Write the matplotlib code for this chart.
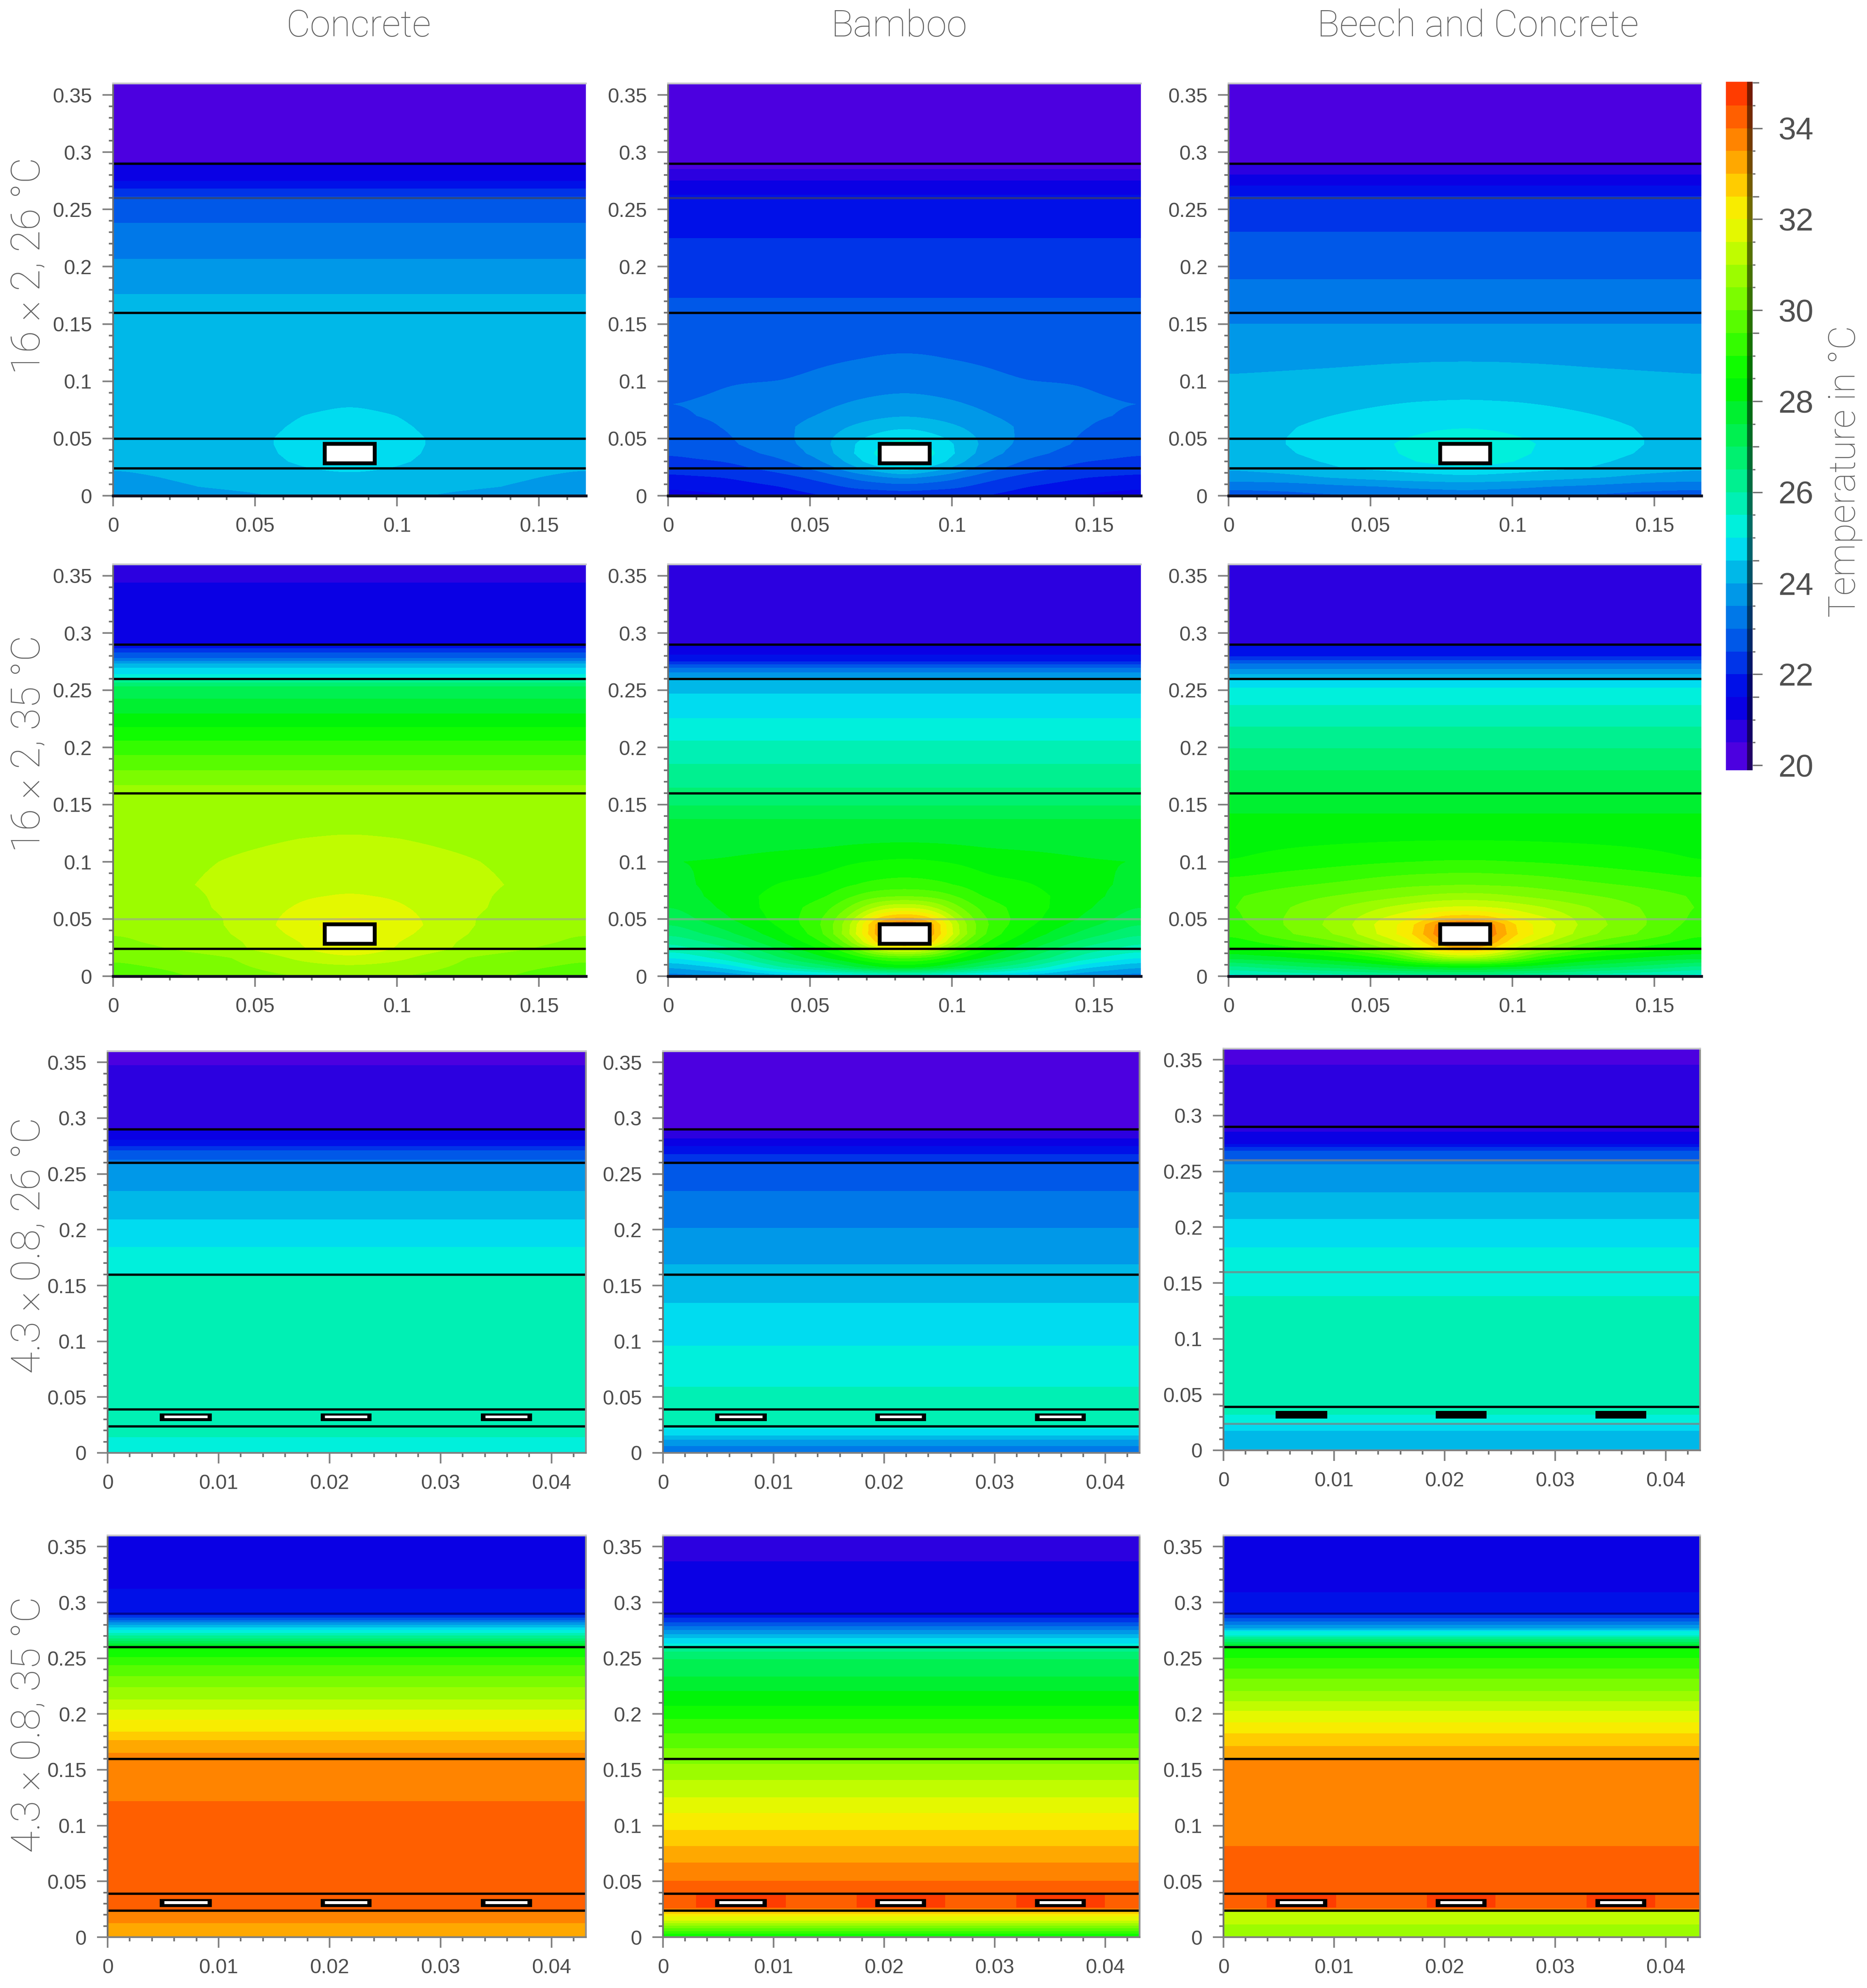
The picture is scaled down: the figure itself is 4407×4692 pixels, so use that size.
import numpy as np
import matplotlib
matplotlib.use('Agg')
import matplotlib.pyplot as plt
from matplotlib.colors import ListedColormap, BoundaryNorm
from matplotlib.patches import Rectangle
from matplotlib.ticker import FixedLocator, FixedFormatter, NullFormatter

# temperature bands, 20 to 35 in 0.5 steps
levels = [20 + 0.5 * i for i in range(31)]
band_colors = ['#4c00e0', '#2c00e0', '#0a00e4', '#0010e8', '#0034e8', '#0058e8', '#0078e8', '#0098e8',
               '#00b8e8', '#00dcf0', '#00f0dc', '#00f0b4', '#00f090', '#00f070', '#00f050', '#00f030',
               '#00f408', '#10fc00', '#34fc00', '#58fc00', '#7cfc00', '#9cfc00', '#c0fc00', '#e4f800',
               '#f8ec00', '#ffcc00', '#ffa800', '#ff8400', '#ff5f00', '#ff3c00']

# nodes for the wide pipe panels (left half, mirrored about the pipe)
half_x = [0, 0.02, 0.04, 0.055, 0.065, 0.075, 0.08325]
low_y = [0, 0.008, 0.016, 0.024, 0.03, 0.037, 0.045, 0.05, 0.06, 0.07, 0.08, 0.10, 0.12]

# 16 x 2, 26 C
conc_16_26 = [[23.7, 23.8, 23.9, 24.02, 24.1, 24.15, 24.15, 24.15, 24.15, 24.12, 24.1, 24.1, 24.05],
              [23.8, 23.95, 24.02, 24.1, 24.15, 24.2, 24.2, 24.2, 24.2, 24.18, 24.15, 24.12, 24.08],
              [23.9, 24.05, 24.1, 24.2, 24.25, 24.3, 24.32, 24.32, 24.3, 24.27, 24.22, 24.15, 24.1],
              [24.0, 24.1, 24.2, 24.3, 24.4, 24.45, 24.48, 24.48, 24.43, 24.36, 24.3, 24.2, 24.12],
              [24.05, 24.2, 24.3, 24.45, 24.55, 24.6, 24.6, 24.6, 24.55, 24.49, 24.38, 24.25, 24.15],
              [24.1, 24.25, 24.35, 24.55, 24.7, 24.8, 24.85, 24.75, 24.65, 24.55, 24.44, 24.3, 24.17],
              [24.1, 24.3, 24.4, 24.6, 24.9, 24.9, 24.9, 24.9, 24.7, 24.6, 24.48, 24.3, 24.18]]
conc_16_26_y = [0.1759, 0.2066, 0.2382, 0.2612, 0.2683, 0.275, 0.2905, 0.2915, 0.36]
conc_16_26_t = [24, 23.5, 23, 22.5, 22, 21.5, 21, 20.5, 20.2]

bamb_16_26 = [[21.2, 21.6, 21.9, 22.15, 22.35, 22.52, 22.65, 22.75, 22.87, 22.95, 22.99, 22.9, 22.75],
              [21.45, 21.75, 22.0, 22.3, 22.5, 22.75, 22.9, 22.93, 23.0, 23.05, 23.05, 22.98, 22.8],
              [21.75, 22.0, 22.3, 22.7, 22.9, 23.15, 23.3, 23.35, 23.38, 23.3, 23.2, 23.0, 22.82],
              [22.0, 22.3, 22.7, 23.2, 23.5, 23.75, 23.85, 23.85, 23.75, 23.55, 23.4, 23.12, 22.93],
              [22.1, 22.6, 23.1, 23.85, 24.2, 24.45, 24.45, 24.35, 24.05, 23.75, 23.55, 23.2, 22.98],
              [22.15, 22.7, 23.4, 24.4, 25, 25.2, 25, 24.75, 24.3, 23.9, 23.65, 23.27, 23.03],
              [22.2, 22.8, 23.65, 24.9, 25.4, 25.6, 25.4, 25, 24.45, 23.98, 23.7, 23.3, 23.05]]
bamb_16_26_y = [0.1727, 0.2247, 0.2626, 0.275, 0.2854, 0.36]
bamb_16_26_t = [22.5, 22, 21.5, 21, 20.5, 20.2]

beech_16_26 = [[22.7, 23.15, 23.75, 24.05, 24.1, 24.15, 24.2, 24.2, 24.2, 24.18, 24.15, 24.05, 23.88],
               [22.8, 23.2, 23.85, 24.2, 24.35, 24.45, 24.5, 24.5, 24.45, 24.35, 24.22, 24.08, 23.9],
               [22.95, 23.4, 24.05, 24.5, 24.6, 24.7, 24.75, 24.75, 24.68, 24.53, 24.38, 24.12, 23.92],
               [23.05, 23.5, 24.2, 24.6, 24.8, 24.9, 24.95, 24.92, 24.8, 24.65, 24.48, 24.17, 23.94],
               [23.1, 23.6, 24.25, 24.72, 24.98, 25.1, 25.1, 25.03, 24.88, 24.72, 24.53, 24.2, 23.95],
               [23.15, 23.65, 24.3, 24.85, 25.15, 25.25, 25.25, 25.15, 24.95, 24.75, 24.55, 24.22, 23.96],
               [23.2, 23.7, 24.35, 24.95, 25.2, 25.3, 25.3, 25.2, 24.98, 24.77, 24.57, 24.22, 23.96]]
beech_16_26_y = [0.1499, 0.1887, 0.2302, 0.2614, 0.271, 0.2806, 0.29, 0.36]
beech_16_26_t = [23.5, 23, 22.5, 22, 21.5, 21, 20.5, 20.2]

# 16 x 2, 35 C
conc_16_35 = [[29.75, 29.9, 30.05, 30.3, 30.4, 30.5, 30.6, 30.62, 30.65, 30.7, 30.75, 30.72, 30.65],
              [29.9, 30.05, 30.2, 30.5, 30.6, 30.65, 30.72, 30.75, 30.8, 30.85, 30.92, 30.88, 30.78],
              [30.2, 30.35, 30.45, 30.8, 30.85, 30.95, 31.0, 31.0, 31.07, 31.08, 31.1, 31.02, 30.9],
              [30.4, 30.6, 30.8, 31.2, 31.25, 31.35, 31.42, 31.4, 31.35, 31.28, 31.2, 31.1, 30.96],
              [30.5, 30.75, 31.1, 31.4, 31.45, 31.6, 31.75, 31.7, 31.55, 31.43, 31.3, 31.15, 31.0],
              [30.55, 30.85, 31.3, 31.7, 31.85, 32, 32.1, 31.95, 31.7, 31.5, 31.35, 31.18, 31.03],
              [30.6, 30.9, 31.4, 31.9, 32.1, 32.3, 32.2, 32.1, 31.75, 31.55, 31.38, 31.2, 31.05]]
conc_16_35_y = [0.1669, 0.1798, 0.193, 0.206, 0.2178, 0.2296, 0.2426, 0.2532, 0.2568, 0.2592, 0.2603,
                0.2639, 0.2698, 0.2733, 0.2756, 0.278, 0.2828, 0.2865, 0.2898, 0.3442, 0.36]
conc_16_35_t = [30.5, 30, 29.5, 29, 28.5, 28, 27.5, 27, 26.5, 26, 25.5, 25, 24.5, 24, 23.5, 23, 22.5, 22,
                21.5, 21, 20.7]

bamb_16_35 = [[23.2, 24, 24.9, 25.7, 26, 26.5, 26.9, 27.1, 27.4, 27.65, 27.85, 27.98, 27.72],
              [23.5, 24.6, 25.7, 26.3, 26.8, 27.3, 27.7, 27.9, 28.1, 28.2, 28.15, 28.05, 27.75],
              [24.2, 26, 27, 27.6, 28, 28.35, 28.6, 28.7, 28.75, 28.7, 28.55, 28.2, 27.78],
              [24.6, 26.7, 27.9, 28.6, 29, 29.4, 29.5, 29.45, 29.25, 28.9, 28.65, 28.3, 27.8],
              [24.8, 27.4, 28.6, 29.6, 30.4, 31.1, 31, 30.8, 30.1, 29.5, 29, 28.45, 27.85],
              [24.9, 28, 29.4, 31.6, 33.2, 33.7, 33.7, 33, 31.3, 29.9, 29.15, 28.55, 27.88],
              [25, 28.2, 29.6, 31.9, 33.5, 34, 34, 33.3, 31.5, 30, 29.2, 28.6, 27.9]]
bamb_16_35_y = [0.1373, 0.149, 0.1645, 0.1852, 0.2059, 0.2253, 0.2468, 0.2608, 0.2655, 0.2694, 0.2727,
                0.2753, 0.281, 0.2901, 0.36]
bamb_16_35_t = [27.5, 27, 26.5, 26, 25.5, 25, 24.5, 24, 23.5, 23, 22.5, 22, 21.5, 21, 20.7]

beech_16_35 = [[25.2, 26.3, 27.6, 28.4, 28.7, 29, 29.2, 29.3, 29.4, 29.4, 29.2, 28.5, 28.27],
               [25.4, 26.8, 27.9, 28.8, 29.3, 29.9, 30.03, 30.03, 29.95, 29.75, 29.4, 28.7, 28.35],
               [25.6, 27.2, 28.4, 29.4, 30, 30.6, 30.75, 30.7, 30.5, 30.05, 29.6, 28.85, 28.4],
               [25.8, 27.6, 29, 30.4, 31.1, 31.7, 31.75, 31.6, 31, 30.3, 29.8, 28.95, 28.43],
               [25.9, 27.9, 29.9, 31.2, 31.9, 32.4, 32.3, 32, 31.3, 30.5, 29.9, 29, 28.45],
               [26, 28, 30.7, 32.8, 33.5, 34, 33.9, 32.9, 31.55, 30.65, 29.95, 29.03, 28.46],
               [26, 28.2, 31, 33, 34, 34.5, 34.5, 33, 31.6, 30.7, 30, 29.05, 28.47]]
beech_16_35_y = [0.1422, 0.1588, 0.18, 0.1989, 0.2178, 0.2367, 0.2521, 0.2592, 0.2639, 0.2686, 0.2733,
                 0.2764, 0.2797, 0.2895, 0.2905, 0.36]
beech_16_35_t = [28, 27.5, 27, 26.5, 26, 25.5, 25, 24.5, 24, 23.5, 23, 22.5, 22, 21.5, 21, 20.7]

# 4.3 x 0.8 panels are flat, only a profile over the height
conc_43_26_y = [0, 0.0142, 0.024, 0.039, 0.1, 0.1587, 0.1847, 0.2091, 0.2345, 0.2594, 0.2629, 0.2712,
                0.2748, 0.2807, 0.2901, 0.3475, 0.36]
conc_43_26_t = [25.2, 25.5, 25.7, 25.75, 25.75, 25.5, 25, 24.5, 24, 23.5, 23, 22.5, 22, 21.5, 21, 20.5, 20.1]

bamb_43_26_y = [0, 0.0059, 0.0118, 0.0154, 0.0213, 0.0237, 0.035, 0.0592, 0.0959, 0.1343, 0.1689, 0.2018,
                0.2345, 0.2594, 0.2676, 0.2748, 0.2819, 0.2901, 0.36]
bamb_43_26_t = [23.1, 23.5, 24, 24.5, 25, 25.5, 25.8, 25.5, 25, 24.5, 24, 23.5, 23, 22.5, 22, 21.5, 21, 20.5, 20.2]

beech_43_26_y = [0, 0.0173, 0.0239, 0.0319, 0.08, 0.1382, 0.182, 0.2072, 0.2311, 0.2564, 0.2604, 0.2683,
                 0.272, 0.2744, 0.2856, 0.3454, 0.36]
beech_43_26_t = [24.1, 24.5, 25, 25.5, 25.7, 25.5, 25, 24.5, 24, 23.5, 23, 22.5, 22, 21.5, 21, 20.5, 20.1]

conc_43_35_y = [0, 0.0124, 0.0233, 0.06, 0.1219, 0.1652, 0.1767, 0.1842, 0.1949, 0.2038, 0.213, 0.224, 0.2338,
                0.2439, 0.2511, 0.2597, 0.2612, 0.2632, 0.2655, 0.2678, 0.2704, 0.2727, 0.2753, 0.2776,
                0.2799, 0.2822, 0.2842, 0.2863, 0.2885, 0.3122, 0.36]
conc_43_35_t = [33.2, 33.5, 34, 34.4, 34, 33.5, 33, 32.5, 32, 31.5, 31, 30.5, 30, 29.5, 29, 28.5, 28, 27.5, 27,
                26.5, 26, 25.5, 25, 24.5, 24, 23.5, 23, 22.5, 22, 21.5, 21.1]

bamb_43_35_y = [0, 0.0031, 0.0055, 0.0078, 0.0102, 0.0126, 0.015, 0.0185, 0.0233, 0.026, 0.035, 0.0506, 0.0668,
                0.0815, 0.0962, 0.1112, 0.1255, 0.1409, 0.1552, 0.1694, 0.1825, 0.1956, 0.2075, 0.2205, 0.2336,
                0.2491, 0.2561, 0.2597, 0.2609, 0.2633, 0.2681, 0.2716, 0.2752, 0.2788, 0.2823, 0.2864,
                0.2906, 0.337, 0.36]
bamb_43_35_t = [28.3, 29, 29.5, 30, 30.5, 31, 31.5, 32, 33, 34, 34.45, 34, 33.5, 33, 32.5, 32, 31.5, 31, 30.5,
                30, 29.5, 29, 28.5, 28, 27.5, 27, 26.5, 26, 25.5, 25, 24.5, 24, 23.5, 23, 22.5, 22, 21.5, 21, 20.7]

beech_43_35_y = [0, 0.0114, 0.0226, 0.0233, 0.026, 0.03, 0.0815, 0.1599, 0.1713, 0.1825, 0.1927, 0.2027, 0.2117,
                 0.2205, 0.2317, 0.2407, 0.2502, 0.2597, 0.2609, 0.2626, 0.2645, 0.2669, 0.2688, 0.2704, 0.274,
                 0.2752, 0.2768, 0.2799, 0.283, 0.2859, 0.2895, 0.3092, 0.36]
beech_43_35_t = [30.6, 31, 31.5, 33, 34, 34.45, 34, 33.5, 33, 32.5, 32, 31.5, 31, 30.5, 30, 29.5, 29, 28.5, 28,
                 27.5, 27, 26.5, 26, 25.5, 25, 24.5, 24, 23.5, 23, 22.5, 22, 21.5, 21.1]

# layer lines, black ones and the ones that came out grey
lines_16_26 = [0.29, 0.16, 0.05, 0.024]
lines_16_35 = [0.29, 0.26, 0.16, 0.024]
lines_43 = [0.29, 0.26, 0.16, 0.039, 0.024]

# pipes
pipe_wide_x = [0.0745, 0.092]
pipe_wide_y = [0.0285, 0.0455]
pipe_flat_x = [[0.0047, 0.0094], [0.0192, 0.0238], [0.03365, 0.03825]]
pipe_flat_y = [[0.0284, 0.0354], [0.027, 0.034]]
# how far the hottest band reaches sideways around the pipes, 35 C row
hot_reach = [0, 0.0017, 0.0008]
hot_y = [0.0265, 0.0385]

col_names = ['Concrete', 'Bamboo', 'Beech and Concrete']
row_names = ['16 \u00d7 2, 26 \u00b0C', '16 \u00d7 2, 35 \u00b0C', '4.3 \u00d7 0.8, 26 \u00b0C', '4.3 \u00d7 0.8, 35 \u00b0C']

y_ticks = [0, 0.05, 0.1, 0.15, 0.2, 0.25, 0.3, 0.35]
y_labels = ['0', '0.05', '0.1', '0.15', '0.2', '0.25', '0.3', '0.35']
x_ticks_wide = [0, 0.05, 0.1, 0.15]
x_labels_wide = ['0', '0.05', '0.1', '0.15']
x_ticks_flat = [0, 0.01, 0.02, 0.03, 0.04]
x_labels_flat = ['0', '0.01', '0.02', '0.03', '0.04']
cbar_ticks = [20, 22, 24, 26, 28, 30, 32, 34]

W, H = 4407, 4692
DPI = 300
plt.rcParams['font.family'] = ['Liberation Sans', 'DejaVu Sans']
cmap = ListedColormap(band_colors)
norm = BoundaryNorm(levels, cmap.N)
fig = plt.figure(figsize=(W / DPI, H / DPI), dpi=DPI)


def px_axes(x0, x1, y0, y1):
    return fig.add_axes([x0 / W, 1 - y1 / H, (x1 - x0) / W, (y1 - y0) / H])


def wide_field(cols, up_y, up_t, width=0.1665):
    # mirror the half grid and put the flat upper part on top of it
    low = np.array(cols).T
    up = np.tile(np.array(up_t)[:, None], (1, low.shape[1]))
    t = np.vstack([low, up])
    t = np.hstack([t, t[:, -2::-1]])
    xx = np.array(half_x)
    xx = np.concatenate([xx, width - xx[-2::-1]])
    # round off the corners of the contours, sideways only
    fine = np.linspace(0, width, 168)
    tf = np.array([np.interp(fine, xx, row) for row in t])
    box = np.ones(9) / 9
    for _ in range(2):
        pad = np.hstack([tf[:, 4:0:-1], tf, tf[:, -2:-6:-1]])
        tf = np.array([np.convolve(row, box, mode='valid') for row in pad])
    return fine, np.concatenate([low_y, up_y]), tf


def flat_field(ys, ts, width=0.0431):
    t = np.array(ts)[:, None]
    return np.array([0, width]), np.array(ys), np.hstack([t, t])


def setup_axes(ax, xmax, xticks, xlabels, xminor, ymax=0.36):
    ax.set_xlim(0, xmax)
    ax.set_ylim(0, ymax)
    ax.xaxis.set_major_locator(FixedLocator(xticks))
    ax.xaxis.set_major_formatter(FixedFormatter(xlabels))
    ax.yaxis.set_major_locator(FixedLocator(y_ticks))
    ax.yaxis.set_major_formatter(FixedFormatter(y_labels))
    ax.xaxis.set_minor_locator(FixedLocator(np.arange(0, xmax, xminor)))
    ax.yaxis.set_minor_locator(FixedLocator(np.arange(0, ymax, 0.01)))
    ax.tick_params(which='major', length=6, width=0.9, color='#808080', labelcolor='#4c4c4c', labelsize=11.5, pad=6)
    ax.tick_params(which='minor', length=2.5, width=0.9, color='#707070')
    for s in ax.spines.values():
        s.set_linewidth(1.0)
    ax.spines['left'].set_color('#707070')
    ax.spines['top'].set_color('#c4c4c8')
    ax.spines['bottom'].set_color('#808080')
    ax.spines['right'].set_color('#909090')


# pixel boxes of the panels
col_x = [(267, 1383), (1577, 2693), (2900, 4016)]
col_x_flat = [(254, 1383), (1565, 2690), (2888, 4013)]
row_y = [(197, 1170), (1332, 2304), (2481, 3429), (3624, 4572)]

wide = [[(conc_16_26, conc_16_26_y, conc_16_26_t), (bamb_16_26, bamb_16_26_y, bamb_16_26_t),
         (beech_16_26, beech_16_26_y, beech_16_26_t)],
        [(conc_16_35, conc_16_35_y, conc_16_35_t), (bamb_16_35, bamb_16_35_y, bamb_16_35_t),
         (beech_16_35, beech_16_35_y, beech_16_35_t)]]
flat = [[(conc_43_26_y, conc_43_26_t), (bamb_43_26_y, bamb_43_26_t), (beech_43_26_y, beech_43_26_t)],
        [(conc_43_35_y, conc_43_35_t), (bamb_43_35_y, bamb_43_35_t), (beech_43_35_y, beech_43_35_t)]]

for r in range(2):
    for c in range(3):
        ax = px_axes(col_x[c][0], col_x[c][1], row_y[r][0], row_y[r][1])
        xx, yy, tt = wide_field(*wide[r][c])
        ax.contourf(xx, yy, tt, levels=levels, cmap=cmap, norm=norm)
        setup_axes(ax, 0.1665, x_ticks_wide, x_labels_wide, 0.01)
        ax.spines['right'].set_visible(False)
        for yl in (lines_16_26 if r == 0 else lines_16_35):
            ax.axhline(yl, color='black', lw=1.3)
        if r == 0:
            ax.axhline(0.26, color='#404060', lw=1.2, alpha=0.7)
        else:
            ax.axhline(0.05, color='#a0a0a0', lw=1.2, alpha=0.6)
        ax.axhline(0, color='#101020', lw=1.6, clip_on=False, zorder=5)
        ax.add_patch(Rectangle((pipe_wide_x[0], pipe_wide_y[0]), pipe_wide_x[1] - pipe_wide_x[0],
                               pipe_wide_y[1] - pipe_wide_y[0], fc='white', ec='black', lw=2.2, zorder=6))

for r in range(2):
    for c in range(3):
        y0, y1 = row_y[r + 2]
        if r == 0 and c == 2:
            y0, y1 = 2475, 3423
        ax = px_axes(col_x_flat[c][0], col_x_flat[c][1], y0, y1)
        xx, yy, tt = flat_field(*flat[r][c])
        ax.contourf(xx, yy, tt, levels=levels, cmap=cmap, norm=norm)
        setup_axes(ax, 0.0431, x_ticks_flat, x_labels_flat, 0.002)
        grey_ones = r == 0 and c == 2
        if r == 1 and hot_reach[c] > 0:
            for p in pipe_flat_x:
                ax.add_patch(Rectangle((p[0] - hot_reach[c], hot_y[0]), p[1] - p[0] + 2 * hot_reach[c],
                                       hot_y[1] - hot_y[0], fc=band_colors[-1], ec='none', zorder=2))
        for yl in lines_43:
            if grey_ones and yl in (0.26, 0.16, 0.024):
                ax.axhline(yl, color='#808080', lw=1.2, alpha=0.7)
            elif r == 1 and yl == 0.29:
                # this one nearly disappears in the dark blue
                ax.axhline(yl, color='#000040', lw=1.2, alpha=0.5)
            else:
                ax.axhline(yl, color='black', lw=1.3)
        py = pipe_flat_y[r]
        for p in pipe_flat_x:
            ax.add_patch(Rectangle((p[0], py[0]), p[1] - p[0], py[1] - py[0], fc='black', ec='none', zorder=6))
            if not grey_ones:
                ax.add_patch(Rectangle((p[0] + 0.0004, py[0] + 0.0028), p[1] - p[0] - 0.0008, 0.0024,
                                       fc='white', ec='none', zorder=7))

# colourbar
cax = px_axes(4074, 4137, 193, 1818)
cax.set_xlim(0, 1)
cax.set_ylim(19.89, 35.02)
edges = [19.89] + levels[1:-1] + [35.02]
cax.pcolormesh([0, 1], edges, np.array(levels[:-1])[:, None] + 0.25, cmap=cmap, norm=norm)
for s in cax.spines.values():
    s.set_visible(False)
cax.axvline(0.89, color='black', lw=3.2, alpha=0.55)
cax.set_xticks([])
cax.yaxis.tick_right()
cax.yaxis.set_major_locator(FixedLocator(cbar_ticks))
cax.yaxis.set_major_formatter(FixedFormatter([str(v) for v in cbar_ticks]))
cax.yaxis.set_minor_locator(FixedLocator(levels))
cax.yaxis.set_minor_formatter(NullFormatter())
cax.tick_params(which='major', length=5.5, width=0.8, color='#707070', labelcolor='#505050', labelsize=18, pad=9)
cax.tick_params(which='minor', length=1.5, width=0.8, color='#707070')
for t, loc in zip(cax.yaxis.get_minor_ticks(), levels):
    if loc == int(loc) and int(loc) % 2 == 1:
        t.tick2line.set_markersize(3.6)

for name, xc in zip(col_names, [847, 2122, 3489]):
    fig.text(xc / W, 1 - 62 / H, name, ha='center', va='center', fontsize=21, color='#606060',
             family='Roboto', weight='light')
for name, yc in zip(row_names, [628, 1756, 2939, 4070]):
    fig.text(68 / W, 1 - yc / H, name, rotation=90, ha='center', va='center', fontsize=22.7, color='#606060',
             family='Roboto', weight='light')
fig.text(4355 / W, 1 - 1113 / H, 'Temperature in \u00b0C', rotation=90, ha='center', va='center', fontsize=21,
         color='#606060', family='Roboto', weight='light')

fig.savefig('out.png', dpi=DPI)
